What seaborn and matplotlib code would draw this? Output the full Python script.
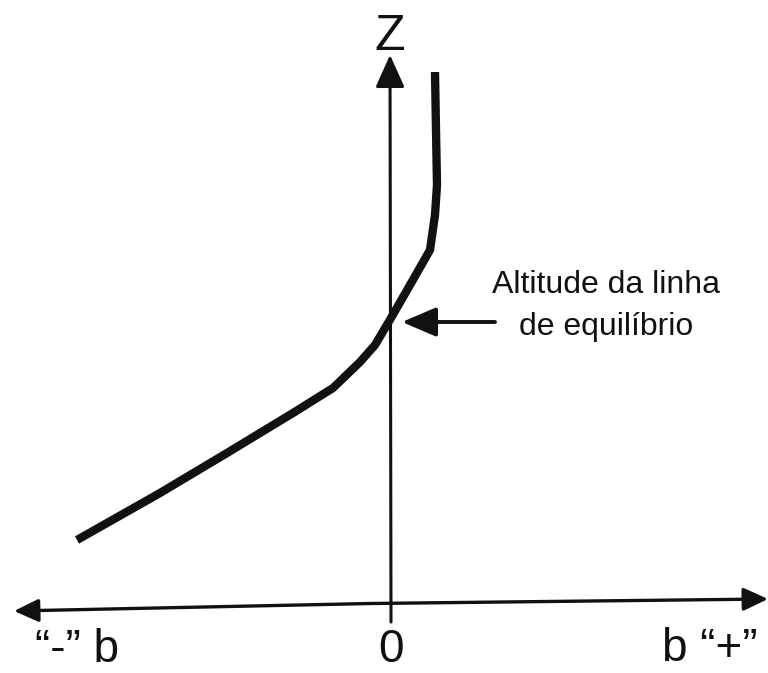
import matplotlib
matplotlib.use("Agg")
import matplotlib.pyplot as plt
import seaborn as sns
import pandas as pd

# Mass balance b against altitude Z (schematic profile)
balance_b = [-3.14, -2.31, -1.64, -0.98, -0.58, -0.31, -0.16, 0.00, 0.19, 0.39, 0.44, 0.46, 0.45, 0.44]
altitude_z = [0.66, 1.13, 1.53, 1.93, 2.18, 2.44, 2.61, 2.88, 3.21, 3.56, 3.91, 4.21, 4.76, 5.34]

axis_label_z = "Z"
tick_left = "\u201c-\u201d b"
tick_zero = "0"
tick_right = "b \u201c+\u201d"
callout_lines = ["Altitude da linha", "de equilíbrio"]

sns.set_theme(style="white")
plt.rcParams["font.family"] = ["Liberation Sans", "DejaVu Sans"]

fig = plt.figure(figsize=(7.68, 6.73), dpi=100)
ax = fig.add_axes([0, 0, 1, 1])
ax.set_xlim(-3.91, 3.77)
ax.set_ylim(-0.67, 6.06)
ax.axis("off")

profile = pd.DataFrame({"b": balance_b, "z": altitude_z})
sns.lineplot(data=profile, x="b", y="z", sort=False, estimator=None,
             color="#111111", linewidth=6.0, ax=ax,
             solid_joinstyle="round", solid_capstyle="butt")

arrow_kw = dict(color="#111111", shrinkA=0, shrinkB=0)

# horizontal b axis, double-headed
ax.annotate("", xy=(3.77, 0.07), xytext=(-0.2, 0.025),
            arrowprops=dict(arrowstyle="-|>,head_length=1.5,head_width=0.7",
                            mutation_scale=10, lw=2.4, **arrow_kw))
ax.annotate("", xy=(-3.77, -0.05), xytext=(-0.2, 0.025),
            arrowprops=dict(arrowstyle="-|>,head_length=1.5,head_width=0.7",
                            mutation_scale=10, lw=2.4, **arrow_kw))

# vertical Z axis
ax.annotate("", xy=(-0.01, 5.51), xytext=(0.0, -0.16),
            arrowprops=dict(arrowstyle="-|>,head_length=2.0,head_width=0.9",
                            mutation_scale=10, lw=2.2, **arrow_kw))

# pointer to the equilibrium line altitude
ax.annotate("", xy=(0.11, 2.84), xytext=(1.04, 2.84),
            arrowprops=dict(arrowstyle="-|>,head_length=2.1,head_width=0.9",
                            mutation_scale=10, lw=2.8, **arrow_kw))

ax.text(-0.01, 5.56, axis_label_z, ha="center", va="baseline",
        fontsize=36, color="#111111")
ax.text(-3.56, -0.56, tick_left, ha="left", va="baseline",
        fontsize=33, color="#111111")
ax.text(0.005, -0.56, tick_zero, ha="center", va="baseline",
        fontsize=33, color="#111111")
ax.text(2.71, -0.55, tick_right, ha="left", va="baseline",
        fontsize=33, color="#111111")

label_font = ["Liberation Sans", "DejaVu Sans"]
ax.text(2.15, 3.13, callout_lines[0], ha="center", va="baseline",
        fontsize=23, color="#111111", family=label_font)
ax.text(2.15, 2.71, callout_lines[1], ha="center", va="baseline",
        fontsize=23, color="#111111", family=label_font)

fig.savefig("out.png", dpi=100, facecolor="white")
